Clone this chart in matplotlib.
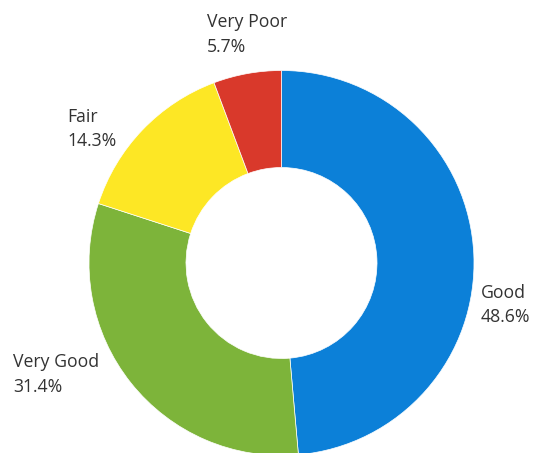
import matplotlib
matplotlib.use("Agg")
import matplotlib.pyplot as plt

# Survey rating shares (percent), drawn clockwise from 12 o'clock
categories = ["Good", "Very Good", "Fair", "Very Poor"]
shares = [48.6, 31.4, 14.3, 5.7]
colors = ["#0c80d8", "#7db43a", "#fde725", "#d9392b"]

# Label anchor points in pixel space: (left x, first-line baseline y)
label_pos = {
    "Very Poor": (207, 27),
    "Fair": (67, 122),
    "Good": (481, 298),
    "Very Good": (13, 367),
}

W, H = 535, 453
fig = plt.figure(figsize=(W / 100, H / 100), dpi=100)
ax = fig.add_axes([0, 0, 1, 1])
ax.set_xlim(0, W)
ax.set_ylim(0, H)
ax.set_aspect("equal")
ax.axis("off")

cx, cy, r = 281.5, H - 263, 192.5
ring = 97

ax.pie(shares, colors=colors, startangle=90, counterclock=False,
       center=(cx, cy), radius=r, frame=True,
       wedgeprops=dict(width=ring, edgecolor="white", linewidth=0.5))
ax.set_xlim(0, W)
ax.set_ylim(0, H)
ax.axis("off")

font = dict(family="Open Sans", fontsize=12.7, color="#333333")
line_gap = 24.5
for name, val in zip(categories, shares):
    x, y = label_pos[name]
    ax.text(x, H - y, name, ha="left", va="baseline", **font)
    ax.text(x, H - y - line_gap, f"{val:.1f}%", ha="left", va="baseline", **font)

fig.savefig("out.png", dpi=100)
